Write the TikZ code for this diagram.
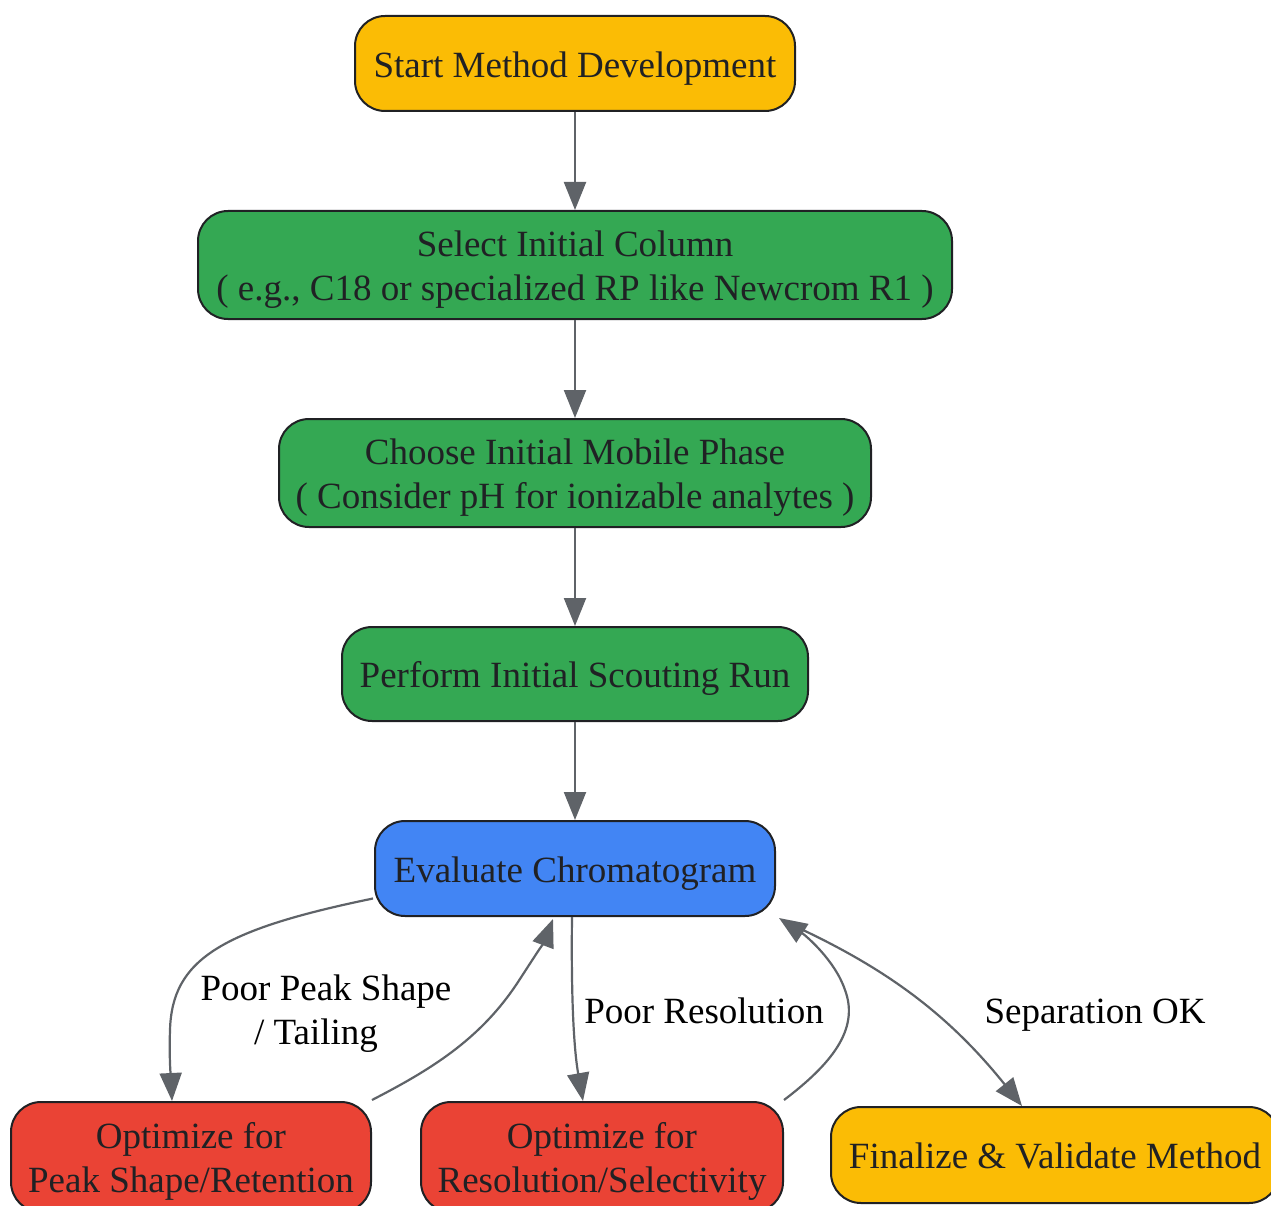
\documentclass[tikz,border=0pt]{standalone}
\usepackage{fontspec}
\setmainfont{Liberation Serif}
\usetikzlibrary{arrows.meta,calc}
\definecolor{gyellow}{HTML}{FBBC05}
\definecolor{ggreen}{HTML}{34A853}
\definecolor{gblue}{HTML}{4285F4}
\definecolor{gred}{HTML}{EA4335}
\definecolor{txt}{HTML}{202124}
\definecolor{edge}{HTML}{5F6368}
\newcommand{\boxtext}[1]{\raisebox{-5pt}[\height][\depth]{\begin{tabular}{@{}c@{}}#1\end{tabular}}}
\newcommand{\lbltext}[1]{\begin{tabular}{@{}c@{}}#1\end{tabular}}
\tikzset{
  box/.style={draw=txt, line width=2pt, rounded corners=30pt, align=center,
    inner sep=0pt, text=txt, font=\fontsize{37}{44}\selectfont},
  arr/.style={draw=edge, line width=2.2pt, -{Triangle[length=28pt,width=22pt]}},
  lbl/.style={align=center, text=black, inner sep=0pt, font=\fontsize{37}{44}\selectfont}
}
\begin{document}
\begin{tikzpicture}[x=1pt,y=-1pt]
\useasboundingbox (0,0) rectangle (1271,1206);
\node[box, fill=gyellow, minimum width=440, minimum height=95] (start) at (575,63.5) {\boxtext{Start Method Development}};
\node[box, fill=ggreen, minimum width=754, minimum height=108] (select) at (575,265) {\boxtext{Select Initial Column\\( e.g., C18 or specialized RP like Newcrom R1 )}};
\node[box, fill=ggreen, minimum width=592, minimum height=108] (choose) at (575,473) {\boxtext{Choose Initial Mobile Phase\\( Consider pH for ionizable analytes )}};
\node[box, fill=ggreen, minimum width=466, minimum height=94] (perform) at (575,674) {\boxtext{Perform Initial Scouting Run}};
\node[box, fill=gblue, minimum width=400, minimum height=95] (eval) at (575,868.5) {\boxtext{Evaluate Chromatogram}};
\node[box, fill=gred, minimum width=360, minimum height=110] (opt1) at (191,1157) {\boxtext{Optimize for\\Peak Shape/Retention}};
\node[box, fill=gred, minimum width=362, minimum height=110] (opt2) at (602,1157) {\boxtext{Optimize for\\Resolution/Selectivity}};
\node[box, fill=gyellow, minimum width=448, minimum height=96] (final) at (1055,1155) {\boxtext{Finalize \& Validate Method}};

\draw[arr] (start) -- (select);
\draw[arr] (select) -- (choose);
\draw[arr] (choose) -- (perform);
\draw[arr] (perform) -- (eval);

\coordinate (e1) at ($(eval.west)+(-1,30)$);
\coordinate (o1t) at ($(opt1.north)+(-19,0)$);
\draw[arr] (e1) .. controls (220,930) and (172,960) .. (170,1030) .. controls (169,1060) and (171,1080) .. (o1t);
\node[lbl] (l1) at (326,1014) {\lbltext{Poor Peak Shape\\/ Tailing\hspace*{20pt}}};

\coordinate (o1r) at ($(opt1.north east)+(0,-1)$);
\coordinate (e2) at ($(eval.south)+(-22,2)$);
\draw[arr] (o1r) .. controls (430,1070) and (480,1040) .. (518,982) .. controls (533,959) and (545,940) .. (e2);

\coordinate (e3) at ($(eval.south)+(-3,0)$);
\coordinate (o2t) at ($(opt2.north)+(-19,0)$);
\draw[arr] (e3) .. controls (571,1000) and (574,1050) .. (o2t);
\node[lbl] (l2) at (704,1015) {\lbltext{Poor Resolution}};

\coordinate (o2r) at ($(opt2.north east)+(0,-1)$);
\coordinate (e4) at ($(eval.south east)+(3,1)$);
\draw[arr] (o2r) .. controls (830,1065) and (860,1030) .. (845,990) .. controls (835,960) and (805,935) .. (e4);

\coordinate (e5) at ($(eval.south east)+(12,6)$);
\coordinate (ft) at ($(final.north)+(-33,0)$);
\draw[arr] (e5) .. controls (880,965) and (945,1010) .. (ft);
\node[lbl] (l3) at (1095,1015) {\lbltext{Separation OK}};
\end{tikzpicture}
\end{document}
